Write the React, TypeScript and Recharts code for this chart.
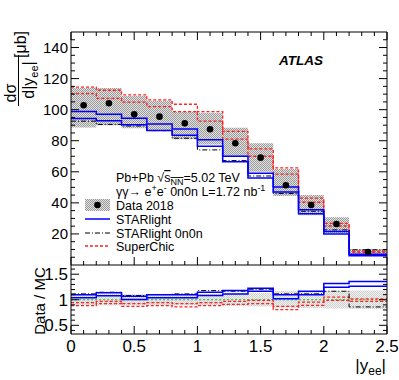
import React from 'react';
import { ComposedChart, Line, Area, Scatter, XAxis, YAxis, ReferenceLine } from 'recharts';

// ---- binning ----
const binEdges = [0, 0.2, 0.4, 0.6, 0.8, 1.0, 1.2, 1.4, 1.6, 1.8, 2.0, 2.2, 2.5];
const binCenters = [0.1, 0.3, 0.5, 0.7, 0.9, 1.1, 1.3, 1.5, 1.7, 1.9, 2.1, 2.35];

// ---- top panel: dsigma/d|y_ee| [ub] ----
const data2018 = [102.8, 104.1, 97.0, 95.5, 91.2, 87.4, 78.4, 69.1, 51.3, 38.6, 26.4, 8.4];
const dataSystLow = [88.5, 90.0, 88.0, 86.5, 81.0, 77.5, 69.7, 60.0, 44.4, 32.0, 20.4, 6.2];
const dataSystHigh = [114.0, 114.0, 108.8, 105.8, 98.7, 98.0, 88.4, 78.4, 61.8, 45.0, 30.7, 10.1];
const starlightUp = [98.8, 97.0, 94.5, 90.8, 87.6, 80.6, 70.0, 59.0, 50.2, 35.5, 21.6, 6.9];
const starlightDown = [94.3, 92.8, 90.3, 86.6, 83.5, 76.4, 66.5, 56.0, 47.0, 33.0, 20.0, 6.0];
const starlight0n0n = [92.6, 90.5, 89.5, 86.5, 81.6, 74.1, 67.2, 57.3, 46.0, 34.6, 22.6, 9.8];
const superchicUp = [114.5, 112.5, 109.5, 106.3, 103.5, 98.7, 86.0, 74.8, 62.5, 43.0, 26.8, 8.9];
const superchicDown = [110.3, 107.3, 104.8, 102.0, 98.8, 92.6, 81.0, 70.0, 58.5, 40.4, 25.1, 8.2];

// ---- ratio panel: Data / MC ----
const ratioStarUp = [1.096, 1.135, 1.071, 1.096, 1.096, 1.147, 1.179, 1.224, 1.096, 1.167, 1.32, 1.359];
const ratioStarDown = [1.038, 1.077, 1.006, 1.038, 1.038, 1.083, 1.115, 1.167, 1.019, 1.096, 1.244, 1.263];
const ratio0n0n = [1.115, 1.147, 1.083, 1.103, 1.115, 1.179, 1.167, 1.205, 1.115, 1.115, 1.167, 0.86];
const ratioSCUp = [0.942, 0.968, 0.923, 0.942, 0.923, 0.942, 0.968, 0.987, 0.872, 0.955, 1.051, 1.019];
const ratioSCDown = [0.885, 0.923, 0.872, 0.885, 0.859, 0.885, 0.91, 0.923, 0.808, 0.891, 0.987, 0.968];
const ratioBandLow = [0.89, 0.89, 0.89, 0.89, 0.89, 0.89, 0.88, 0.87, 0.85, 0.84, 0.83, 0.82];
const ratioBandHigh = [1.11, 1.11, 1.11, 1.11, 1.11, 1.11, 1.12, 1.13, 1.17, 1.17, 1.17, 1.18];

// ---- ticks ----
const xTicks = [0, 0.1, 0.2, 0.3, 0.4, 0.5, 0.6, 0.7, 0.8, 0.9, 1.0, 1.1, 1.2, 1.3, 1.4, 1.5, 1.6, 1.7, 1.8, 1.9, 2.0, 2.1, 2.2, 2.3, 2.4, 2.5];
const xMajorLabels = [0, 0.5, 1, 1.5, 2, 2.5];
const topYTicks = [5, 10, 15, 20, 25, 30, 35, 40, 45, 50, 55, 60, 65, 70, 75, 80, 85, 90, 95, 100, 105, 110, 115, 120, 125, 130, 135, 140, 145];
const topYMajorLabels = [20, 40, 60, 80, 100, 120, 140];
const ratioYTicks = [0.4, 0.5, 0.6, 0.7, 0.8, 0.9, 1.0, 1.1, 1.2, 1.3, 1.4, 1.5, 1.6];
const ratioYMajorLabels = [0.5, 1, 1.5];

const FONT = '"Liberation Sans", Arial, Helvetica, sans-serif';

const steps = (vals: number[]) => binEdges.map((x, i) => ({ x, v: vals[Math.min(i, vals.length - 1)] }));
const band = (lo: number[], hi: number[]) =>
  binEdges.map((x, i) => ({ x, r: [lo[Math.min(i, lo.length - 1)], hi[Math.min(i, hi.length - 1)]] }));
const points = binCenters.map((x, i) => ({ x, v: data2018[i] }));

const near = (a: number, list: number[]) => list.some((b) => Math.abs(a - b) < 1e-6);

type TickOpts = {
  side: 'left' | 'right' | 'top' | 'bottom';
  majors: number[];
  majorLen: number;
  minorLen: number;
  labels?: boolean;
  fontSize?: number;
  labelOffset?: number;
};

function makeTick(o: TickOpts) {
  return (props: any) => {
    const { x, y, payload } = props;
    const v = payload.value as number;
    const major = near(v, o.majors);
    const len = major ? o.majorLen : o.minorLen;
    let x2 = x;
    let y2 = y;
    if (o.side === 'left') x2 = x + len;
    else if (o.side === 'right') x2 = x - len;
    else if (o.side === 'top') y2 = y + len;
    else y2 = y - len;
    const showLabel = major && o.labels;
    return (
      <g>
        <line x1={x} y1={y} x2={x2} y2={y2} stroke="#000" strokeWidth={1} />
        {showLabel && o.side === 'left' && (
          <text x={x - 3} y={y} dy="0.36em" textAnchor="end" fontSize={o.fontSize} fontFamily={FONT} fill="#000">
            {String(v)}
          </text>
        )}
        {showLabel && o.side === 'bottom' && (
          <text x={x} y={y + (o.labelOffset || 17)} textAnchor="middle" fontSize={o.fontSize} fontFamily={FONT} fill="#000">
            {String(v)}
          </text>
        )}
      </g>
    );
  };
}

const axisLine = { stroke: '#000', strokeWidth: 1 };

const BLUE = '#0000ff';
const RED = '#ff2020';

function TopPanel() {
  return (
    <ComposedChart width={399} height={268} margin={{ top: 31, right: 11, bottom: 2, left: 70 }}>
      <XAxis xAxisId="b" dataKey="x" type="number" domain={[0, 2.5]} ticks={xTicks} interval={0} allowDataOverflow
        height={1} tickSize={0} tickMargin={0} tickLine={false} axisLine={axisLine}
        tick={makeTick({ side: 'bottom', majors: xMajorLabels, majorLen: 8, minorLen: 4 })} />
      <XAxis xAxisId="t" orientation="top" dataKey="x" type="number" domain={[0, 2.5]} ticks={xTicks} interval={0} allowDataOverflow
        height={1} tickSize={0} tickMargin={0} tickLine={false} axisLine={axisLine}
        tick={makeTick({ side: 'top', majors: xMajorLabels, majorLen: 8, minorLen: 4 })} />
      <YAxis yAxisId="l" type="number" domain={[0, 150]} ticks={topYTicks} interval={0} allowDataOverflow
        width={1} tickSize={0} tickMargin={0} tickLine={false} axisLine={axisLine}
        tick={makeTick({ side: 'left', majors: topYMajorLabels, majorLen: 8, minorLen: 4, labels: true, fontSize: 15 })} />
      <YAxis yAxisId="r" orientation="right" type="number" domain={[0, 150]} ticks={topYTicks} interval={0} allowDataOverflow
        width={1} tickSize={0} tickMargin={0} tickLine={false} axisLine={axisLine}
        tick={makeTick({ side: 'right', majors: topYMajorLabels, majorLen: 8, minorLen: 4 })} />
      <Area xAxisId="b" yAxisId="l" data={band(dataSystLow, dataSystHigh)} dataKey="r" type="stepAfter"
        stroke="none" fill="url(#hatchDark)" fillOpacity={1} isAnimationActive={false} />
      <Line xAxisId="b" yAxisId="l" data={steps(superchicUp)} dataKey="v" type="stepAfter" stroke={RED}
        strokeWidth={1.3} strokeDasharray="3 2" dot={false} isAnimationActive={false} />
      <Line xAxisId="b" yAxisId="l" data={steps(superchicDown)} dataKey="v" type="stepAfter" stroke={RED}
        strokeWidth={1.3} strokeDasharray="3 2" dot={false} isAnimationActive={false} />
      <Line xAxisId="b" yAxisId="l" data={steps(starlight0n0n)} dataKey="v" type="stepAfter" stroke="#000"
        strokeWidth={1} strokeDasharray="5 2 1 2" dot={false} isAnimationActive={false} />
      <Line xAxisId="b" yAxisId="l" data={steps(starlightUp)} dataKey="v" type="stepAfter" stroke={BLUE}
        strokeWidth={1.5} dot={false} isAnimationActive={false} />
      <Line xAxisId="b" yAxisId="l" data={steps(starlightDown)} dataKey="v" type="stepAfter" stroke={BLUE}
        strokeWidth={1.5} dot={false} isAnimationActive={false} />
      <Scatter xAxisId="b" yAxisId="l" data={points} dataKey="v" isAnimationActive={false}
        shape={(p: any) => <circle cx={p.cx} cy={p.cy} r={3.3} fill="#000" />} />
    </ComposedChart>
  );
}

function RatioPanel() {
  return (
    <ComposedChart width={399} height={118} margin={{ top: 3, right: 11, bottom: 45, left: 70 }}>
      <XAxis xAxisId="b" dataKey="x" type="number" domain={[0, 2.5]} ticks={xTicks} interval={0} allowDataOverflow
        height={1} tickSize={0} tickMargin={0} tickLine={false} axisLine={axisLine}
        tick={makeTick({ side: 'bottom', majors: xMajorLabels, majorLen: 8, minorLen: 4, labels: true, fontSize: 17, labelOffset: 18 })} />
      <YAxis yAxisId="l" type="number" domain={[0.33, 1.68]} ticks={ratioYTicks} interval={0} allowDataOverflow
        width={1} tickSize={0} tickMargin={0} tickLine={false} axisLine={axisLine}
        tick={makeTick({ side: 'left', majors: ratioYMajorLabels, majorLen: 8, minorLen: 4, labels: true, fontSize: 17 })} />
      <YAxis yAxisId="r" orientation="right" type="number" domain={[0.33, 1.68]} ticks={ratioYTicks} interval={0} allowDataOverflow
        width={1} tickSize={0} tickMargin={0} tickLine={false} axisLine={axisLine}
        tick={makeTick({ side: 'right', majors: ratioYMajorLabels, majorLen: 8, minorLen: 4 })} />
      <Area xAxisId="b" yAxisId="l" data={band(ratioBandLow, ratioBandHigh)} dataKey="r" type="stepAfter"
        stroke="none" fill="url(#hatchLight)" fillOpacity={1} isAnimationActive={false} />
      <ReferenceLine xAxisId="b" yAxisId="l" y={1} stroke="#22bb22" strokeWidth={1} strokeDasharray="2 2" />
      <Line xAxisId="b" yAxisId="l" data={steps(ratioSCUp)} dataKey="v" type="stepAfter" stroke={RED}
        strokeWidth={1.3} strokeDasharray="3 2" dot={false} isAnimationActive={false} />
      <Line xAxisId="b" yAxisId="l" data={steps(ratioSCDown)} dataKey="v" type="stepAfter" stroke={RED}
        strokeWidth={1.3} strokeDasharray="3 2" dot={false} isAnimationActive={false} />
      <Line xAxisId="b" yAxisId="l" data={steps(ratio0n0n)} dataKey="v" type="stepAfter" stroke="#000"
        strokeWidth={1} strokeDasharray="5 2 1 2" dot={false} isAnimationActive={false} />
      <Line xAxisId="b" yAxisId="l" data={steps(ratioStarUp)} dataKey="v" type="stepAfter" stroke={BLUE}
        strokeWidth={1.5} dot={false} isAnimationActive={false} />
      <Line xAxisId="b" yAxisId="l" data={steps(ratioStarDown)} dataKey="v" type="stepAfter" stroke={BLUE}
        strokeWidth={1.5} dot={false} isAnimationActive={false} />
    </ComposedChart>
  );
}

function Overlay() {
  const t = { fontFamily: FONT, fill: '#000' } as const;
  return (
    <svg width={399} height={380} style={{ position: 'absolute', left: 0, top: 0, pointerEvents: 'none' }}>
      {/* y title top */}
      <text transform="translate(26,31) rotate(-90)" textAnchor="end" fontSize={16} {...t}>[μb]</text>
      <text transform="translate(16,93) rotate(-90)" textAnchor="middle" fontSize={16} {...t}>dσ</text>
      <line x1={18.5} y1={55} x2={18.5} y2={106} stroke="#000" strokeWidth={1} />
      <text transform="translate(34,80) rotate(-90)" textAnchor="middle" fontSize={16} {...t}>
        d|y<tspan fontSize={11} dy={4}>ee</tspan><tspan dy={-4}>|</tspan>
      </text>
      {/* ratio y title */}
      <text transform="translate(45,301) rotate(-90)" textAnchor="middle" fontSize={15} {...t}>Data / MC</text>
      {/* x title */}
      <text x={386} y={371} textAnchor="end" fontSize={17} {...t}>
        |y<tspan fontSize={12} dy={4}>ee</tspan><tspan dy={-4}>|</tspan>
      </text>
      {/* ATLAS */}
      <text x={279} y={65} fontSize={13.5} fontWeight="bold" fontStyle="italic" {...t}>ATLAS</text>
      {/* info text */}
      <text x={116} y={182} fontSize={12.5} {...t}>
        Pb+Pb √<tspan style={{ textDecoration: 'overline' }}>s</tspan>
        <tspan fontSize={9} dy={3} style={{ textDecoration: 'overline' }}>NN</tspan>
        <tspan dy={-3}>=5.02 TeV</tspan>
      </text>
      <text x={116} y={196} fontSize={12.5} {...t}>
        γγ→ e<tspan fontSize={9} dy={-5}>+</tspan><tspan dy={5}>e</tspan><tspan fontSize={9} dy={-5}>-</tspan>
        <tspan dy={5}>  0n0n L=1.72 nb</tspan><tspan fontSize={9} dy={-5}>-1</tspan>
      </text>
      {/* legend */}
      <rect x={85} y={199} width={25} height={12} fill="url(#hatchDark)" />
      <circle cx={97.5} cy={205} r={3.3} fill="#000" />
      <text x={116} y={210} fontSize={12.5} {...t}>Data 2018</text>
      <line x1={85} y1={219} x2={110} y2={219} stroke={BLUE} strokeWidth={1.5} />
      <text x={116} y={224} fontSize={12.5} {...t}>STARlight</text>
      <line x1={85} y1={233} x2={110} y2={233} stroke="#000" strokeWidth={1} strokeDasharray="5 2 1 2" />
      <text x={116} y={238} fontSize={12.5} {...t}>STARlight 0n0n</text>
      <line x1={85} y1={246} x2={110} y2={246} stroke={RED} strokeWidth={1.3} strokeDasharray="3 2" />
      <text x={116} y={251} fontSize={12.5} {...t}>SuperChic</text>
    </svg>
  );
}

export default function App() {
  return (
    <div style={{ position: 'absolute', left: 0, top: 0, width: 399, height: 380, background: '#fff', fontFamily: FONT }}>
      <svg width={0} height={0} style={{ position: 'absolute' }}>
        <defs>
          <pattern id="hatchDark" width={2} height={2} patternUnits="userSpaceOnUse">
            <rect width={2} height={2} fill="#e2e2e2" />
            <rect x={0} y={0} width={1} height={1} fill="#9a9a9a" />
            <rect x={1} y={1} width={1} height={1} fill="#9a9a9a" />
          </pattern>
          <pattern id="hatchLight" width={2} height={2} patternUnits="userSpaceOnUse">
            <rect width={2} height={2} fill="#f2f2f2" />
            <rect x={0} y={0} width={1} height={1} fill="#cfcfcf" />
            <rect x={1} y={1} width={1} height={1} fill="#cfcfcf" />
          </pattern>
        </defs>
      </svg>
      <div style={{ position: 'absolute', left: 0, top: 0 }}>
        <TopPanel />
      </div>
      <div style={{ position: 'absolute', left: 0, top: 262 }}>
        <RatioPanel />
      </div>
      <Overlay />
    </div>
  );
}
